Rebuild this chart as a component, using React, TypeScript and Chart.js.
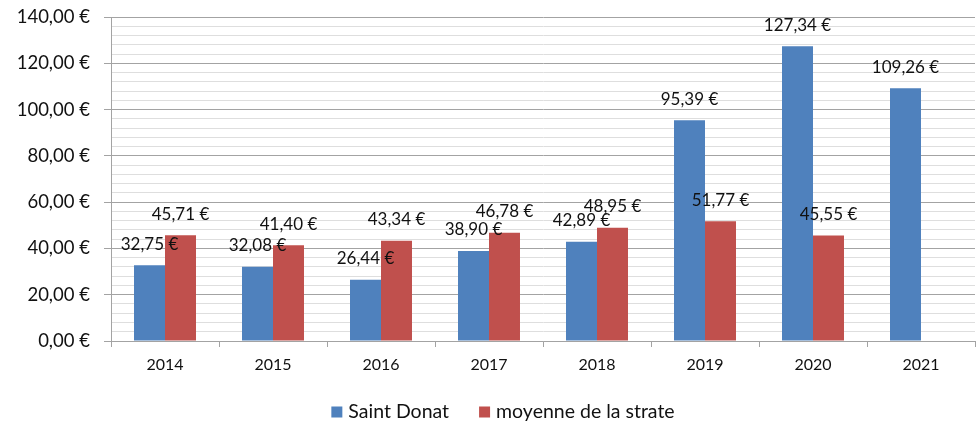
import React, { useEffect, useRef } from 'react';
import { Chart, registerables } from 'chart.js';

Chart.register(...registerables);

const categories = ['2014', '2015', '2016', '2017', '2018', '2019', '2020', '2021'];
const saintDonat = [32.75, 32.08, 26.44, 38.9, 42.89, 95.39, 127.34, 109.26];
const moyenneStrate: (number | null)[] = [45.71, 41.4, 43.34, 46.78, 48.95, 51.77, 45.55, null];
const seriesNames = ['Saint Donat', 'moyenne de la strate'];
const seriesColors = ['#4f81bd', '#c0504d'];
const yMin = 0;
const yMax = 140;
const yMajorStep = 20;
const yMinorStep = 4;

const FONT = 'Lato, "Open Sans", sans-serif';
const TEXT = '#111111';
const MAJOR = '#a3a3a3';
const MINOR = '#dedede';

const fmt = (v: number) => v.toFixed(2).replace('.', ',') + ' €';

const valueLabels = {
  id: 'valueLabels',
  afterDatasetsDraw(chart: any) {
    const ctx = chart.ctx;
    ctx.save();
    ctx.font = `17px ${FONT}`;
    ctx.fillStyle = TEXT;
    ctx.textAlign = 'center';
    ctx.textBaseline = 'middle';
    chart.data.datasets.forEach((ds: any, i: number) => {
      const meta = chart.getDatasetMeta(i);
      meta.data.forEach((el: any, j: number) => {
        const v = ds.data[j];
        if (v == null) return;
        ctx.fillText(fmt(v), el.x, el.y - 21);
      });
    });
    ctx.restore();
  },
};

const bottomLegend = {
  id: 'bottomLegend',
  afterDraw(chart: any) {
    const ctx = chart.ctx;
    ctx.save();
    ctx.font = `19.5px ${FONT}`;
    ctx.textBaseline = 'middle';
    ctx.textAlign = 'left';
    const box = 11;
    const gap = 6;
    const itemGap = 30;
    const widths = seriesNames.map((n) => ctx.measureText(n).width);
    const total = widths.reduce((a, w) => a + box + gap + w, 0) + itemGap * (seriesNames.length - 1);
    let x = 503 - total / 2;
    const cy = 412;
    seriesNames.forEach((n, i) => {
      ctx.fillStyle = seriesColors[i];
      ctx.fillRect(x, cy - box / 2, box, box);
      x += box + gap;
      ctx.fillStyle = TEXT;
      ctx.fillText(n, x, cy);
      x += widths[i] + itemGap;
    });
    ctx.restore();
  },
};

export default function App() {
  const ref = useRef<HTMLCanvasElement>(null);
  useEffect(() => {
    document.body.style.margin = '0';
    const canvas = ref.current!;
    const chart = new Chart(canvas, {
      type: 'bar',
      data: {
        labels: categories,
        datasets: [
          { label: seriesNames[0], data: saintDonat, backgroundColor: seriesColors[0], borderWidth: 0 },
          { label: seriesNames[1], data: moyenneStrate, backgroundColor: seriesColors[1], borderWidth: 0 },
        ],
      },
      options: {
        responsive: false,
        animation: false,
        devicePixelRatio: 1,
        layout: { padding: { left: 0, right: 3, top: 17, bottom: 0 } },
        datasets: { bar: { barPercentage: 1, categoryPercentage: 0.574 } },
        plugins: { legend: { display: false }, tooltip: { enabled: false } },
        scales: {
          x: {
            offset: true,
            grid: {
              display: true,
              drawOnChartArea: false,
              drawTicks: true,
              tickLength: 6,
              color: MAJOR,
              offset: true,
            },
            border: { display: true, color: MAJOR, width: 1 },
            ticks: { color: TEXT, font: { family: FONT, size: 16 }, padding: 8, maxRotation: 0 },
            afterFit: (s: any) => {
              s.height = 81;
            },
          },
          y: {
            min: yMin,
            max: yMax,
            grid: {
              color: (c: any) => (c.tick && c.tick.value % yMajorStep === 0 ? MAJOR : MINOR),
              tickColor: (c: any) => (c.tick && c.tick.value % yMajorStep === 0 ? MAJOR : 'rgba(0,0,0,0)'),
              tickLength: 7,
              drawTicks: true,
            },
            border: { display: true, color: MAJOR, width: 1 },
            ticks: {
              stepSize: yMinorStep,
              autoSkip: false,
              color: TEXT,
              padding: 14,
              font: { family: FONT, size: 18.5, lineHeight: 0.1 },
              callback: (v: any) => (Number(v) % yMajorStep === 0 ? fmt(Number(v)) : ''),
            },
            afterFit: (s: any) => {
              s.width = 111;
            },
          },
        },
      },
      plugins: [valueLabels, bottomLegend],
    });
    return () => chart.destroy();
  }, []);
  return (
    <div style={{ width: 978, height: 422 }}>
      <canvas ref={ref} width={978} height={422} style={{ display: 'block' }} />
    </div>
  );
}
